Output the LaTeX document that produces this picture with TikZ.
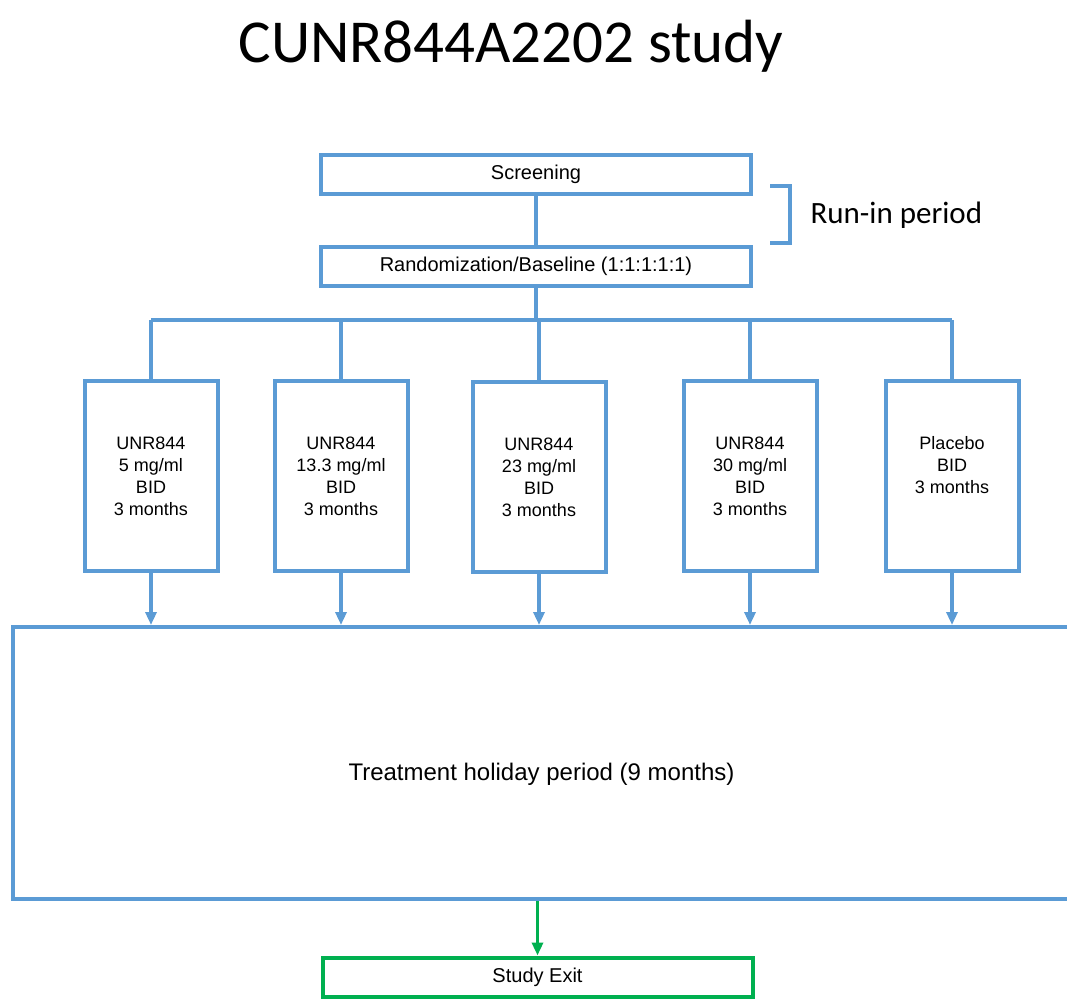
\documentclass[tikz,border=0pt]{standalone}
\usepackage{fontspec}
\setmainfont{Liberation Sans}
\newfontfamily\carlito{Carlito}
\usetikzlibrary{arrows.meta}
\usetikzlibrary{positioning}
\definecolor{armblue}{RGB}{91,155,213}
\definecolor{exitgreen}{RGB}{0,176,80}

\begin{document}
\begin{tikzpicture}[x=1pt, y=-1pt,
    stepbox/.style={draw=armblue, line width=4pt, minimum width=430pt, minimum height=39pt,
      inner sep=0pt, font=\fontsize{20}{24}\selectfont},
    armbox/.style={draw=armblue, line width=4pt, minimum width=133pt, minimum height=190pt,
      inner sep=0pt, align=center, font=\fontsize{18}{22}\selectfont},
    link/.style={armblue, line width=3.5pt},
    arrow/.style={link, -{Triangle[width=11pt,length=13pt]}}]
  \useasboundingbox (0,0) rectangle (1067,998);

  % Title
  \node[anchor=base, font=\carlito\fontsize{61}{70}\selectfont] (title) at (511,63) {CUNR844A2202 study};

  % Run-in
  \node[stepbox] (screen) at (536,174) {Screening};
  \node[stepbox] (rand) at (536,266) {Randomization/Baseline (1:1:1:1:1)};
  \draw[link] (screen.south) -- (rand.north);
  \draw[armblue, line width=4pt] (770,186) -- (790,186) -- (790,243) -- (770,243);
  \node[anchor=base west, font=\carlito\fontsize{31}{36}\selectfont] (runin) at (807,223) {Run-in period};

  % Arms
  \node[armbox] (arm1) at (151,476) {UNR844\\5 mg/ml\\BID\\3 months};
  \node[armbox] (arm2) at (341,476) {UNR844\\13.3 mg/ml\\BID\\3 months};
  \node[armbox] (arm3) at (539,477) {UNR844\\23 mg/ml\\BID\\3 months};
  \node[armbox] (arm4) at (750,476) {UNR844\\30 mg/ml\\BID\\3 months};
  \node[armbox] (arm5) at (952,476) {Placebo\\BID\\3 months\\\mbox{}};
  \coordinate (split) at (536,320);
  \draw[link] (rand.south) -- (split);
  \draw[link] (split -| arm1.north) -- (split -| arm5.north);
  \foreach \a in {1,...,5}
    \draw[link] (split -| arm\a.north) -- (arm\a.north);

  % Treatment holiday
  \node[draw=armblue, line width=4pt, minimum width=1057pt, minimum height=272pt, inner sep=0pt,
    text height=34pt, text depth=0pt, font=\fontsize{24}{28}\selectfont] (hold) at (541.5,763)
    {Treatment holiday period (9 months)};
  \foreach \a in {1,...,5}
    \draw[arrow] (arm\a.south) -- (arm\a.south |- hold.north);

  % Exit
  \node[stepbox, draw=exitgreen] (exit) at (537.5,977) {Study Exit};
  \draw[arrow, exitgreen] (exit.north |- hold.south) -- (exit.north);
\end{tikzpicture}
\end{document}
